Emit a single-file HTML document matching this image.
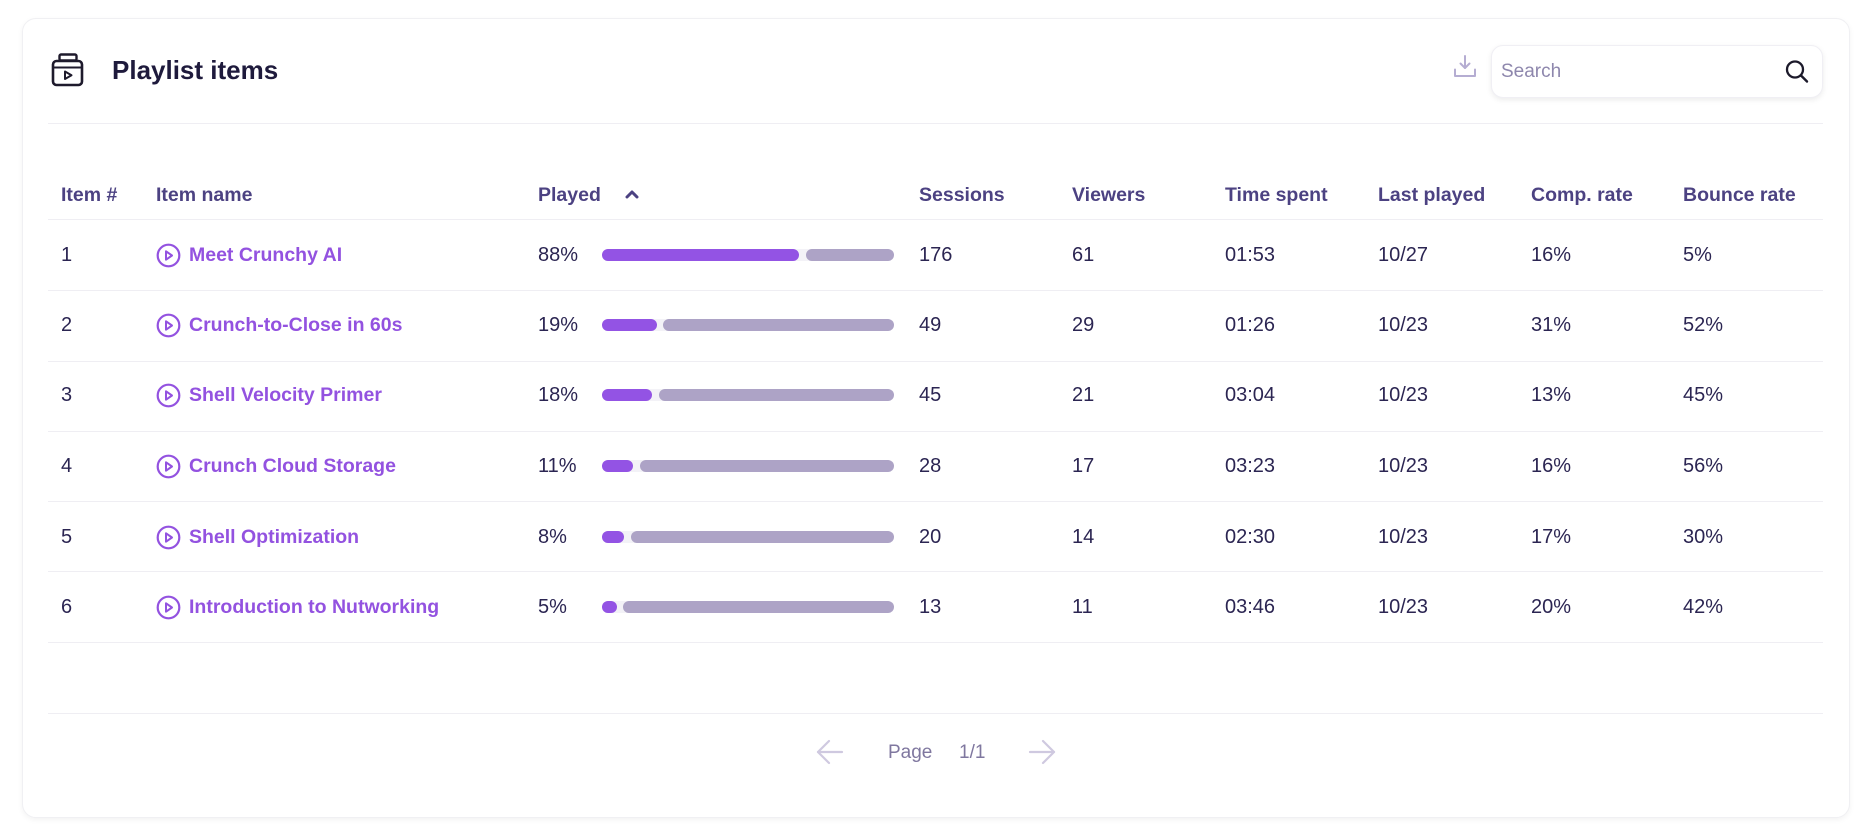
<!DOCTYPE html>
<html>
<head>
<meta charset="utf-8">
<style>
  html,body{margin:0;padding:0;background:#fff;}
  body{width:1872px;height:832px;position:relative;overflow:hidden;font-family:"Liberation Sans",sans-serif;}
  .card{position:absolute;left:22px;top:18px;width:1826px;height:798px;border:1px solid #f0f0f3;border-radius:14px;background:#fff;box-shadow:0 2px 6px rgba(0,0,0,0.05);}
  .abs{position:absolute;}
  .title{left:112px;top:53px;font-size:26px;font-weight:bold;color:#1e1a3c;line-height:34px;}
  .hline{position:absolute;left:48px;width:1775px;height:1px;background:#efeef3;}
  .th{position:absolute;top:182px;font-size:19.5px;font-weight:bold;color:#4c4282;line-height:26px;white-space:nowrap;}
  .td{position:absolute;font-size:20px;color:#2b2552;line-height:26px;white-space:nowrap;}
  .name{position:absolute;font-size:19.5px;font-weight:bold;color:#9352e0;line-height:26px;white-space:nowrap;}
  .track{position:absolute;left:602px;width:292px;height:12px;border-radius:6px;background:#f3f2f7;}
  .pb{position:absolute;height:12px;border-radius:6px;background:#9353e4;}
  .gb{position:absolute;height:12px;border-radius:6px;background:#ada3c6;}
  .search{position:absolute;left:1491px;top:45px;width:330px;height:51px;border:1px solid #f0eff4;border-radius:12px;background:#fff;box-shadow:0 2px 6px rgba(0,0,0,0.08);}
</style>
</head>
<body>
<div class="card"></div>

<!-- header icon -->
<svg class="abs" style="left:48px;top:50px" width="40" height="40" viewBox="48 50 40 40">
  <rect x="59.5" y="54.5" width="17" height="6" rx="1.5" fill="none" stroke="#1e1a2c" stroke-width="2.4"/>
  <rect x="53" y="61" width="29" height="24" rx="3.5" fill="none" stroke="#1e1a2c" stroke-width="2.6"/>
  <line x1="53" y1="67.5" x2="82" y2="67.5" stroke="#1e1a2c" stroke-width="2"/>
  <path d="M65 71.5 L71.5 75.3 L65 79 Z" fill="none" stroke="#1e1a2c" stroke-width="2" stroke-linejoin="round"/>
</svg>
<div class="abs title">Playlist items</div>

<!-- download icon -->
<svg class="abs" style="left:1450px;top:52px" width="30" height="30" viewBox="1450 52 30 30">
  <g fill="none" stroke="#b5add2" stroke-width="2" stroke-linecap="round" stroke-linejoin="round">
    <line x1="1465" y1="56" x2="1465" y2="68"/>
    <polyline points="1460.5,63.5 1465,68 1469.5,63.5"/>
    <polyline points="1455,69.5 1455,76 1475,76 1475,69.5"/>
  </g>
</svg>

<!-- search -->
<div class="search"></div>
<div class="abs" style="left:1501px;top:59px;font-size:19px;color:#8e87ad;line-height:26px;">Search</div>
<svg class="abs" style="left:1780px;top:56px" width="32" height="32" viewBox="1780 56 32 32">
  <circle cx="1795" cy="69.5" r="8" fill="none" stroke="#1c1a2b" stroke-width="2.3"/>
  <line x1="1801" y1="75.5" x2="1807" y2="81.5" stroke="#1c1a2b" stroke-width="2.4" stroke-linecap="round"/>
</svg>

<div class="hline" style="top:123px"></div>

<!-- table header -->
<div class="th" style="left:61px">Item #</div>
<div class="th" style="left:156px">Item name</div>
<div class="th" style="left:538px">Played</div>
<svg class="abs" style="left:622px;top:186px" width="20" height="16" viewBox="0 0 20 16">
  <polyline points="5,11 10,6 15,11" fill="none" stroke="#4c4282" stroke-width="3" stroke-linecap="round" stroke-linejoin="round"/>
</svg>
<div class="th" style="left:919px">Sessions</div>
<div class="th" style="left:1072px">Viewers</div>
<div class="th" style="left:1225px">Time spent</div>
<div class="th" style="left:1378px">Last played</div>
<div class="th" style="left:1531px">Comp. rate</div>
<div class="th" style="left:1683px">Bounce rate</div>

<div class="hline" style="top:219px"></div>
<div class="hline" style="top:290px"></div>
<div class="hline" style="top:361px"></div>
<div class="hline" style="top:431px"></div>
<div class="hline" style="top:501px"></div>
<div class="hline" style="top:571px"></div>
<div class="hline" style="top:642px"></div>
<div class="hline" style="top:713px"></div>

<!-- Row 1 -->
<div class="td" style="left:61px;top:242px">1</div>
<svg class="abs" style="left:155px;top:242px" width="27" height="27" viewBox="0 0 27 27"><circle cx="13.5" cy="13.5" r="10.8" fill="none" stroke="#9352e0" stroke-width="2.2"/><path d="M11 9.3 L17 13.5 L11 17.7 Z" fill="none" stroke="#9352e0" stroke-width="2" stroke-linejoin="round"/></svg>
<div class="name" style="left:189px;top:242px">Meet Crunchy AI</div>
<div class="td" style="left:538px;top:242px">88%</div>
<div class="track" style="top:249px"></div>
<div class="pb" style="left:602px;width:197px;top:249px"></div>
<div class="gb" style="left:806px;width:88px;top:249px"></div>
<div class="td" style="left:919px;top:242px">176</div>
<div class="td" style="left:1072px;top:242px">61</div>
<div class="td" style="left:1225px;top:242px">01:53</div>
<div class="td" style="left:1378px;top:242px">10/27</div>
<div class="td" style="left:1531px;top:242px">16%</div>
<div class="td" style="left:1683px;top:242px">5%</div>

<!-- Row 2 -->
<div class="td" style="left:61px;top:312px">2</div>
<svg class="abs" style="left:155px;top:312px" width="27" height="27" viewBox="0 0 27 27"><circle cx="13.5" cy="13.5" r="10.8" fill="none" stroke="#9352e0" stroke-width="2.2"/><path d="M11 9.3 L17 13.5 L11 17.7 Z" fill="none" stroke="#9352e0" stroke-width="2" stroke-linejoin="round"/></svg>
<div class="name" style="left:189px;top:312px">Crunch-to-Close in 60s</div>
<div class="td" style="left:538px;top:312px">19%</div>
<div class="track" style="top:319px"></div>
<div class="pb" style="left:602px;width:55px;top:319px"></div>
<div class="gb" style="left:663px;width:231px;top:319px"></div>
<div class="td" style="left:919px;top:312px">49</div>
<div class="td" style="left:1072px;top:312px">29</div>
<div class="td" style="left:1225px;top:312px">01:26</div>
<div class="td" style="left:1378px;top:312px">10/23</div>
<div class="td" style="left:1531px;top:312px">31%</div>
<div class="td" style="left:1683px;top:312px">52%</div>

<!-- Row 3 -->
<div class="td" style="left:61px;top:382px">3</div>
<svg class="abs" style="left:155px;top:382px" width="27" height="27" viewBox="0 0 27 27"><circle cx="13.5" cy="13.5" r="10.8" fill="none" stroke="#9352e0" stroke-width="2.2"/><path d="M11 9.3 L17 13.5 L11 17.7 Z" fill="none" stroke="#9352e0" stroke-width="2" stroke-linejoin="round"/></svg>
<div class="name" style="left:189px;top:382px">Shell Velocity Primer</div>
<div class="td" style="left:538px;top:382px">18%</div>
<div class="track" style="top:389px"></div>
<div class="pb" style="left:602px;width:50px;top:389px"></div>
<div class="gb" style="left:659px;width:235px;top:389px"></div>
<div class="td" style="left:919px;top:382px">45</div>
<div class="td" style="left:1072px;top:382px">21</div>
<div class="td" style="left:1225px;top:382px">03:04</div>
<div class="td" style="left:1378px;top:382px">10/23</div>
<div class="td" style="left:1531px;top:382px">13%</div>
<div class="td" style="left:1683px;top:382px">45%</div>

<!-- Row 4 -->
<div class="td" style="left:61px;top:453px">4</div>
<svg class="abs" style="left:155px;top:453px" width="27" height="27" viewBox="0 0 27 27"><circle cx="13.5" cy="13.5" r="10.8" fill="none" stroke="#9352e0" stroke-width="2.2"/><path d="M11 9.3 L17 13.5 L11 17.7 Z" fill="none" stroke="#9352e0" stroke-width="2" stroke-linejoin="round"/></svg>
<div class="name" style="left:189px;top:453px">Crunch Cloud Storage</div>
<div class="td" style="left:538px;top:453px">11%</div>
<div class="track" style="top:460px"></div>
<div class="pb" style="left:602px;width:31px;top:460px"></div>
<div class="gb" style="left:640px;width:254px;top:460px"></div>
<div class="td" style="left:919px;top:453px">28</div>
<div class="td" style="left:1072px;top:453px">17</div>
<div class="td" style="left:1225px;top:453px">03:23</div>
<div class="td" style="left:1378px;top:453px">10/23</div>
<div class="td" style="left:1531px;top:453px">16%</div>
<div class="td" style="left:1683px;top:453px">56%</div>

<!-- Row 5 -->
<div class="td" style="left:61px;top:524px">5</div>
<svg class="abs" style="left:155px;top:524px" width="27" height="27" viewBox="0 0 27 27"><circle cx="13.5" cy="13.5" r="10.8" fill="none" stroke="#9352e0" stroke-width="2.2"/><path d="M11 9.3 L17 13.5 L11 17.7 Z" fill="none" stroke="#9352e0" stroke-width="2" stroke-linejoin="round"/></svg>
<div class="name" style="left:189px;top:524px">Shell Optimization</div>
<div class="td" style="left:538px;top:524px">8%</div>
<div class="track" style="top:531px"></div>
<div class="pb" style="left:602px;width:22px;top:531px"></div>
<div class="gb" style="left:631px;width:263px;top:531px"></div>
<div class="td" style="left:919px;top:524px">20</div>
<div class="td" style="left:1072px;top:524px">14</div>
<div class="td" style="left:1225px;top:524px">02:30</div>
<div class="td" style="left:1378px;top:524px">10/23</div>
<div class="td" style="left:1531px;top:524px">17%</div>
<div class="td" style="left:1683px;top:524px">30%</div>

<!-- Row 6 -->
<div class="td" style="left:61px;top:594px">6</div>
<svg class="abs" style="left:155px;top:594px" width="27" height="27" viewBox="0 0 27 27"><circle cx="13.5" cy="13.5" r="10.8" fill="none" stroke="#9352e0" stroke-width="2.2"/><path d="M11 9.3 L17 13.5 L11 17.7 Z" fill="none" stroke="#9352e0" stroke-width="2" stroke-linejoin="round"/></svg>
<div class="name" style="left:189px;top:594px">Introduction to Nutworking</div>
<div class="td" style="left:538px;top:594px">5%</div>
<div class="track" style="top:601px"></div>
<div class="pb" style="left:602px;width:15px;top:601px"></div>
<div class="gb" style="left:623px;width:271px;top:601px"></div>
<div class="td" style="left:919px;top:594px">13</div>
<div class="td" style="left:1072px;top:594px">11</div>
<div class="td" style="left:1225px;top:594px">03:46</div>
<div class="td" style="left:1378px;top:594px">10/23</div>
<div class="td" style="left:1531px;top:594px">20%</div>
<div class="td" style="left:1683px;top:594px">42%</div>

<!-- pagination -->
<svg class="abs" style="left:812px;top:738px" width="36" height="28" viewBox="812 738 36 28">
  <g fill="none" stroke="#cfc9e0" stroke-width="2.2" stroke-linecap="round" stroke-linejoin="round">
    <line x1="818" y1="752" x2="842" y2="752"/>
    <polyline points="829,741 818,752 829,763"/>
  </g>
</svg>
<div class="abs" style="left:888px;top:740px;font-size:19px;color:#7f779f;line-height:26px;">Page</div>
<div class="abs" style="left:959px;top:740px;font-size:19px;color:#7f779f;line-height:26px;">1/1</div>
<svg class="abs" style="left:1024px;top:738px" width="36" height="28" viewBox="1024 738 36 28">
  <g fill="none" stroke="#cfc9e0" stroke-width="2.2" stroke-linecap="round" stroke-linejoin="round">
    <line x1="1030" y1="752" x2="1054" y2="752"/>
    <polyline points="1043,741 1054,752 1043,763"/>
  </g>
</svg>
</body>
</html>
